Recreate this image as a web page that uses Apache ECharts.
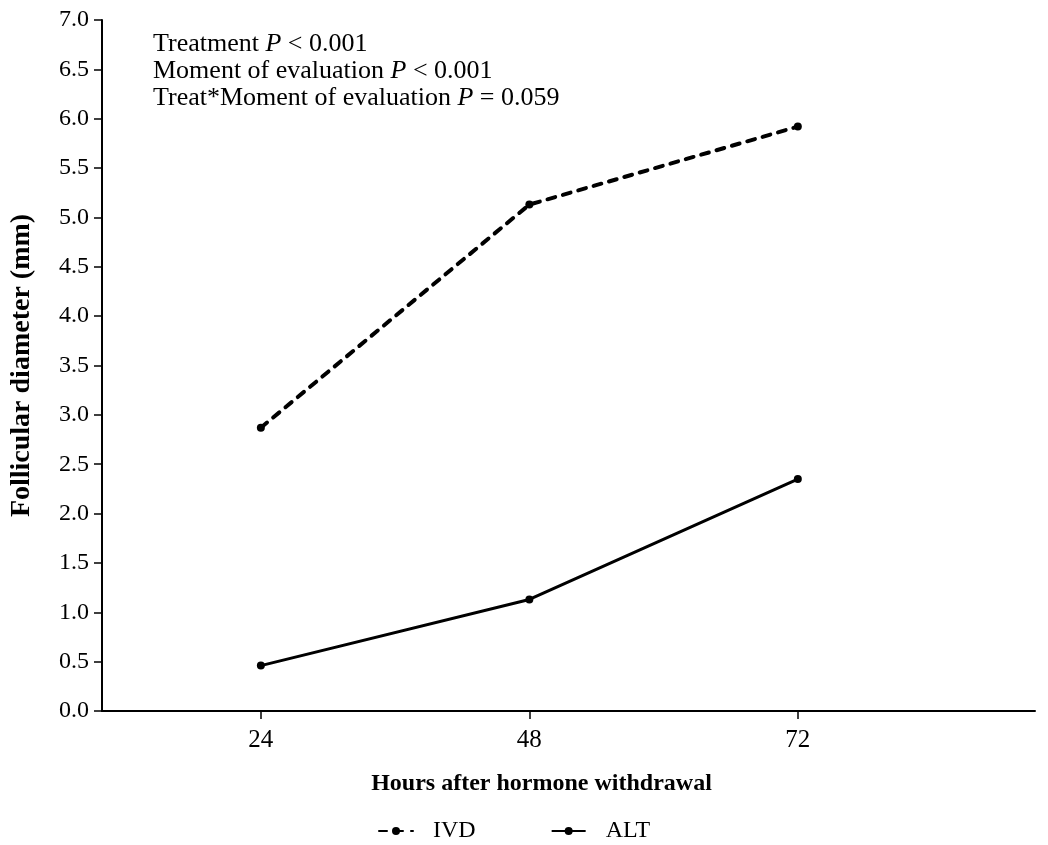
<!DOCTYPE html>
<html>
<head>
<meta charset="utf-8">
<script src="https://cdn.jsdelivr.net/npm/echarts@6/dist/echarts.min.js"></script>
<style>
html,body{margin:0;padding:0;background:#fff;}
#chart{width:1048px;height:845px;}
</style>
</head>
<body>
<div id="chart"></div>
<script>
// hours after withdrawal
let hours = [24, 48, 72];
// follicular diameter (mm)
let ivdValues = [2.87, 5.13, 5.92];
let altValues = [0.46, 1.13, 2.35];
let yTicks = [0, 0.5, 1, 1.5, 2, 2.5, 3, 3.5, 4, 4.5, 5, 5.5, 6, 6.5, 7];
let notes = ['Treatment {i|P} < 0.001', 'Moment of evaluation {i|P} < 0.001', 'Treat*Moment of evaluation {i|P} = 0.059'];

let font = 'Liberation Serif';
let myChart = echarts.init(document.getElementById('chart'));

function pairs(vals) {
	return hours.map(function(h, i) { return [h, vals[i]]; });
}

let option = {
	animation: false,
	textStyle: {fontFamily: font, color: '#000'},
	grid: {left: 101, right: 13, top: 20, bottom: 134},
	title: {
		text: notes.join('\n'),
		left: 148, top: 26,
		textStyle: {
			fontFamily: font, fontSize: 26, fontWeight: 'normal', color: '#000', lineHeight: 27,
			rich: {i: {fontFamily: font, fontSize: 26, fontStyle: 'italic', color: '#000', lineHeight: 27}}
		}
	},
	legend: {
		top: 814, left: 373,
		itemWidth: 34, itemHeight: 10, itemGap: 75,
		textStyle: {fontFamily: font, fontSize: 24, color: '#000', padding: [0, 0, 0, 15]},
		data: ['IVD', 'ALT']
	},
	xAxis: {
		type: 'value',
		min: 9.8, max: 93.2,
		name: 'Hours after hormone withdrawal',
		nameLocation: 'middle', nameGap: 61,
		nameTextStyle: {fontFamily: font, fontSize: 24, fontWeight: 'bold', color: '#000', padding: [0, 54, 0, 0]},
		splitLine: {show: false},
		axisLine: {lineStyle: {color: '#000', width: 2}},
		axisTick: {length: 8, lineStyle: {color: '#000', width: 1.5}, customValues: hours},
		axisLabel: {fontFamily: font, fontSize: 25, color: '#000', margin: 17, customValues: hours}
	},
	yAxis: {
		type: 'value',
		min: 0, max: 7, interval: 0.5,
		name: 'Follicular diameter (mm)',
		nameLocation: 'middle', nameGap: 66,
		nameTextStyle: {fontFamily: font, fontSize: 28, fontWeight: 'bold', color: '#000'},
		splitLine: {show: false},
		axisLine: {show: true, lineStyle: {color: '#000', width: 2}},
		axisTick: {show: true, length: 8, lineStyle: {color: '#000', width: 1.5}},
		axisLabel: {
			fontFamily: font, fontSize: 24, color: '#000', margin: 13,
			formatter: function(v) { return yTicks.indexOf(v) >= 0 ? v.toFixed(1) : ''; }
		}
	},
	series: [
		{
			name: 'IVD', type: 'line',
			data: pairs(ivdValues),
			symbol: 'circle', symbolSize: 8,
			itemStyle: {color: '#000'},
			lineStyle: {color: '#000', width: 4, type: [8, 8], cap: 'round'}
		},
		{
			name: 'ALT', type: 'line',
			data: pairs(altValues),
			symbol: 'circle', symbolSize: 8,
			itemStyle: {color: '#000'},
			lineStyle: {color: '#000', width: 3}
		}
	]
};
myChart.setOption(option);
</script>
</body>
</html>
